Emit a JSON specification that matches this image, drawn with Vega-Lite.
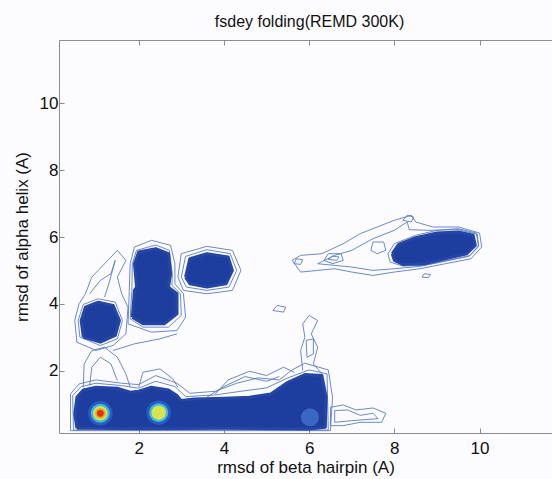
{
"$schema": "https://vega.github.io/schema/vega-lite/v6.json",
"width": 493, "height": 393,
"autosize": {"type": "none"},
"padding": {"left": 59, "top": 40, "right": 0, "bottom": 46},
"background": "#fcfcfe",
"config": {"view": {"stroke": null}, "font": "Liberation Sans"},
"title": {"text": "fsdey folding(REMD 300K)", "fontSize": 16, "fontWeight": "normal", "offset": 10, "dx": 4, "color": "#111"},
"datasets": {
"regions": [
{"id":"R1","o":0,"x":0.55,"y":0.27},{"id":"R1","o":1,"x":0.5,"y":0.7},{"id":"R1","o":2,"x":0.55,"y":1.2},{"id":"R1","o":3,"x":0.7,"y":1.42},{"id":"R1","o":4,"x":1.0,"y":1.5},{"id":"R1","o":5,"x":1.5,"y":1.47},{"id":"R1","o":6,"x":1.8,"y":1.35},{"id":"R1","o":7,"x":2.0,"y":1.38},{"id":"R1","o":8,"x":2.3,"y":1.5},{"id":"R1","o":9,"x":2.7,"y":1.42},{"id":"R1","o":10,"x":2.9,"y":1.25},{"id":"R1","o":11,"x":3.0,"y":1.1},{"id":"R1","o":12,"x":3.3,"y":1.15},{"id":"R1","o":13,"x":4.0,"y":1.17},{"id":"R1","o":14,"x":4.6,"y":1.2},{"id":"R1","o":15,"x":5.1,"y":1.3},{"id":"R1","o":16,"x":5.5,"y":1.65},{"id":"R1","o":17,"x":5.9,"y":1.88},{"id":"R1","o":18,"x":6.3,"y":1.85},{"id":"R1","o":19,"x":6.4,"y":1.2},{"id":"R1","o":20,"x":6.38,"y":0.3},{"id":"R1","o":21,"x":6.0,"y":0.25},{"id":"R1","o":22,"x":4.0,"y":0.27},{"id":"R1","o":23,"x":2.0,"y":0.26},{"id":"R1","o":24,"x":0.9,"y":0.27},{"id":"R1","o":25,"x":0.55,"y":0.27},
{"id":"R2","o":0,"x":0.7,"y":3.0},{"id":"R2","o":1,"x":0.65,"y":3.5},{"id":"R2","o":2,"x":0.75,"y":3.9},{"id":"R2","o":3,"x":1.05,"y":4.05},{"id":"R2","o":4,"x":1.4,"y":3.95},{"id":"R2","o":5,"x":1.55,"y":3.5},{"id":"R2","o":6,"x":1.45,"y":3.05},{"id":"R2","o":7,"x":1.1,"y":2.85},{"id":"R2","o":8,"x":0.7,"y":3.0},
{"id":"R3","o":0,"x":1.85,"y":3.6},{"id":"R3","o":1,"x":1.9,"y":4.4},{"id":"R3","o":2,"x":1.95,"y":4.5},{"id":"R3","o":3,"x":1.9,"y":5.2},{"id":"R3","o":4,"x":2.0,"y":5.55},{"id":"R3","o":5,"x":2.4,"y":5.65},{"id":"R3","o":6,"x":2.7,"y":5.5},{"id":"R3","o":7,"x":2.75,"y":4.9},{"id":"R3","o":8,"x":2.7,"y":4.5},{"id":"R3","o":9,"x":2.9,"y":4.3},{"id":"R3","o":10,"x":2.9,"y":3.7},{"id":"R3","o":11,"x":2.6,"y":3.4},{"id":"R3","o":12,"x":2.1,"y":3.4},{"id":"R3","o":13,"x":1.85,"y":3.6},
{"id":"R4","o":0,"x":3.1,"y":4.8},{"id":"R4","o":1,"x":3.2,"y":5.35},{"id":"R4","o":2,"x":3.6,"y":5.5},{"id":"R4","o":3,"x":4.1,"y":5.4},{"id":"R4","o":4,"x":4.2,"y":5.0},{"id":"R4","o":5,"x":4.05,"y":4.6},{"id":"R4","o":6,"x":3.6,"y":4.5},{"id":"R4","o":7,"x":3.2,"y":4.6},{"id":"R4","o":8,"x":3.1,"y":4.8},
{"id":"R5","o":0,"x":7.95,"y":5.5},{"id":"R5","o":1,"x":8.1,"y":5.78},{"id":"R5","o":2,"x":8.5,"y":5.98},{"id":"R5","o":3,"x":9.0,"y":6.12},{"id":"R5","o":4,"x":9.5,"y":6.15},{"id":"R5","o":5,"x":9.85,"y":6.05},{"id":"R5","o":6,"x":9.9,"y":5.75},{"id":"R5","o":7,"x":9.7,"y":5.5},{"id":"R5","o":8,"x":9.2,"y":5.35},{"id":"R5","o":9,"x":8.7,"y":5.2},{"id":"R5","o":10,"x":8.2,"y":5.18},{"id":"R5","o":11,"x":8.0,"y":5.3},{"id":"R5","o":12,"x":7.95,"y":5.5}
],
"contours": [
{"id":"C1","o":0,"x":0.4,"y":0.2},{"id":"C1","o":1,"x":0.4,"y":1.3},{"id":"C1","o":2,"x":0.6,"y":1.6},{"id":"C1","o":3,"x":1.0,"y":1.72},{"id":"C1","o":4,"x":1.6,"y":1.62},{"id":"C1","o":5,"x":2.0,"y":1.58},{"id":"C1","o":6,"x":2.4,"y":1.85},{"id":"C1","o":7,"x":2.9,"y":1.62},{"id":"C1","o":8,"x":3.2,"y":1.32},{"id":"C1","o":9,"x":3.8,"y":1.38},{"id":"C1","o":10,"x":4.3,"y":1.62},{"id":"C1","o":11,"x":4.8,"y":1.78},{"id":"C1","o":12,"x":5.3,"y":1.72},{"id":"C1","o":13,"x":5.6,"y":2.02},{"id":"C1","o":14,"x":5.9,"y":2.22},{"id":"C1","o":15,"x":6.45,"y":2.02},{"id":"C1","o":16,"x":6.55,"y":1.2},{"id":"C1","o":17,"x":6.5,"y":0.2},{"id":"C1","o":18,"x":0.4,"y":0.2},
{"id":"C2","o":0,"x":0.47,"y":0.22},{"id":"C2","o":1,"x":0.45,"y":1.25},{"id":"C2","o":2,"x":0.65,"y":1.52},{"id":"C2","o":3,"x":1.0,"y":1.62},{"id":"C2","o":4,"x":1.6,"y":1.55},{"id":"C2","o":5,"x":2.0,"y":1.47},{"id":"C2","o":6,"x":2.4,"y":1.68},{"id":"C2","o":7,"x":2.85,"y":1.52},{"id":"C2","o":8,"x":3.1,"y":1.22},{"id":"C2","o":9,"x":3.8,"y":1.27},{"id":"C2","o":10,"x":4.4,"y":1.38},{"id":"C2","o":11,"x":5.0,"y":1.48},{"id":"C2","o":12,"x":5.5,"y":1.78},{"id":"C2","o":13,"x":6.0,"y":2.02},{"id":"C2","o":14,"x":6.42,"y":1.9},{"id":"C2","o":15,"x":6.45,"y":0.22},{"id":"C2","o":16,"x":0.47,"y":0.22},
{"id":"C3","o":0,"x":0.7,"y":1.5},{"id":"C3","o":1,"x":0.72,"y":2.2},{"id":"C3","o":2,"x":0.9,"y":2.6},{"id":"C3","o":3,"x":1.2,"y":2.7},{"id":"C3","o":4,"x":1.5,"y":2.4},{"id":"C3","o":5,"x":1.7,"y":1.9},{"id":"C3","o":6,"x":1.8,"y":1.5},
{"id":"C4","o":0,"x":0.85,"y":1.55},{"id":"C4","o":1,"x":0.9,"y":2.1},{"id":"C4","o":2,"x":1.1,"y":2.4},{"id":"C4","o":3,"x":1.35,"y":2.2},{"id":"C4","o":4,"x":1.5,"y":1.7},
{"id":"C5","o":0,"x":2.0,"y":1.5},{"id":"C5","o":1,"x":2.1,"y":1.95},{"id":"C5","o":2,"x":2.5,"y":2.05},{"id":"C5","o":3,"x":2.8,"y":1.75},{"id":"C5","o":4,"x":2.92,"y":1.5},
{"id":"C6","o":0,"x":3.8,"y":1.3},{"id":"C6","o":1,"x":4.1,"y":1.72},{"id":"C6","o":2,"x":4.6,"y":1.98},{"id":"C6","o":3,"x":5.0,"y":1.85},{"id":"C6","o":4,"x":5.4,"y":2.1},{"id":"C6","o":5,"x":5.65,"y":1.95},
{"id":"C7","o":0,"x":3.6,"y":1.2},{"id":"C7","o":1,"x":4.0,"y":1.52},{"id":"C7","o":2,"x":4.5,"y":1.82},{"id":"C7","o":3,"x":5.0,"y":1.68},{"id":"C7","o":4,"x":5.3,"y":1.82},
{"id":"C8","o":0,"x":5.85,"y":2.0},{"id":"C8","o":1,"x":5.8,"y":2.6},{"id":"C8","o":2,"x":5.9,"y":3.0},{"id":"C8","o":3,"x":5.85,"y":3.4},{"id":"C8","o":4,"x":6.0,"y":3.65},{"id":"C8","o":5,"x":6.2,"y":3.5},{"id":"C8","o":6,"x":6.05,"y":3.1},{"id":"C8","o":7,"x":6.2,"y":2.7},{"id":"C8","o":8,"x":6.1,"y":2.2},{"id":"C8","o":9,"x":6.3,"y":1.9},
{"id":"C9","o":0,"x":5.95,"y":2.4},{"id":"C9","o":1,"x":5.93,"y":2.9},{"id":"C9","o":2,"x":6.1,"y":2.95},{"id":"C9","o":3,"x":6.1,"y":2.5},{"id":"C9","o":4,"x":5.95,"y":2.4},
{"id":"C10","o":0,"x":5.15,"y":3.8},{"id":"C10","o":1,"x":5.25,"y":3.95},{"id":"C10","o":2,"x":5.45,"y":3.9},{"id":"C10","o":3,"x":5.4,"y":3.75},{"id":"C10","o":4,"x":5.15,"y":3.8},
{"id":"C11","o":0,"x":6.5,"y":0.35},{"id":"C11","o":1,"x":6.5,"y":0.9},{"id":"C11","o":2,"x":6.8,"y":0.97},{"id":"C11","o":3,"x":7.1,"y":0.82},{"id":"C11","o":4,"x":7.5,"y":0.88},{"id":"C11","o":5,"x":7.8,"y":0.72},{"id":"C11","o":6,"x":7.7,"y":0.45},{"id":"C11","o":7,"x":7.2,"y":0.45},{"id":"C11","o":8,"x":6.8,"y":0.35},{"id":"C11","o":9,"x":6.5,"y":0.35},
{"id":"C12","o":0,"x":6.6,"y":0.45},{"id":"C12","o":1,"x":6.6,"y":0.8},{"id":"C12","o":2,"x":6.9,"y":0.82},{"id":"C12","o":3,"x":7.2,"y":0.66},{"id":"C12","o":4,"x":7.5,"y":0.72},{"id":"C12","o":5,"x":7.62,"y":0.56},{"id":"C12","o":6,"x":7.0,"y":0.5},{"id":"C12","o":7,"x":6.6,"y":0.45},
{"id":"C13","o":0,"x":0.55,"y":2.85},{"id":"C13","o":1,"x":0.5,"y":3.5},{"id":"C13","o":2,"x":0.6,"y":4.0},{"id":"C13","o":3,"x":0.75,"y":4.3},{"id":"C13","o":4,"x":0.9,"y":4.8},{"id":"C13","o":5,"x":1.2,"y":5.2},{"id":"C13","o":6,"x":1.5,"y":5.6},{"id":"C13","o":7,"x":1.7,"y":5.3},{"id":"C13","o":8,"x":1.5,"y":4.8},{"id":"C13","o":9,"x":1.6,"y":4.3},{"id":"C13","o":10,"x":1.75,"y":3.9},{"id":"C13","o":11,"x":1.7,"y":3.1},{"id":"C13","o":12,"x":1.4,"y":2.75},{"id":"C13","o":13,"x":1.0,"y":2.6},{"id":"C13","o":14,"x":0.55,"y":2.85},
{"id":"C14","o":0,"x":0.62,"y":3.0},{"id":"C14","o":1,"x":0.58,"y":3.5},{"id":"C14","o":2,"x":0.7,"y":3.98},{"id":"C14","o":3,"x":1.05,"y":4.15},{"id":"C14","o":4,"x":1.45,"y":4.05},{"id":"C14","o":5,"x":1.62,"y":3.5},{"id":"C14","o":6,"x":1.5,"y":2.95},{"id":"C14","o":7,"x":1.1,"y":2.75},{"id":"C14","o":8,"x":0.62,"y":3.0},
{"id":"C15","o":0,"x":0.85,"y":4.3},{"id":"C15","o":1,"x":1.1,"y":4.7},{"id":"C15","o":2,"x":1.35,"y":4.9},{"id":"C15","o":3,"x":1.45,"y":5.3},{"id":"C15","o":4,"x":1.3,"y":4.6},{"id":"C15","o":5,"x":1.2,"y":4.2},
{"id":"C16","o":0,"x":1.75,"y":3.4},{"id":"C16","o":1,"x":1.78,"y":4.4},{"id":"C16","o":2,"x":1.8,"y":5.2},{"id":"C16","o":3,"x":1.9,"y":5.7},{"id":"C16","o":4,"x":2.3,"y":5.9},{"id":"C16","o":5,"x":2.75,"y":5.75},{"id":"C16","o":6,"x":2.85,"y":5.2},{"id":"C16","o":7,"x":2.85,"y":4.6},{"id":"C16","o":8,"x":3.05,"y":4.3},{"id":"C16","o":9,"x":3.1,"y":3.6},{"id":"C16","o":10,"x":2.9,"y":3.2},{"id":"C16","o":11,"x":2.3,"y":3.15},{"id":"C16","o":12,"x":1.75,"y":3.4},
{"id":"C17","o":0,"x":1.8,"y":3.55},{"id":"C17","o":1,"x":1.84,"y":4.4},{"id":"C17","o":2,"x":1.85,"y":5.2},{"id":"C17","o":3,"x":1.95,"y":5.6},{"id":"C17","o":4,"x":2.4,"y":5.76},{"id":"C17","o":5,"x":2.72,"y":5.6},{"id":"C17","o":6,"x":2.79,"y":4.9},{"id":"C17","o":7,"x":2.78,"y":4.55},{"id":"C17","o":8,"x":2.98,"y":4.3},{"id":"C17","o":9,"x":3.0,"y":3.65},{"id":"C17","o":10,"x":2.7,"y":3.3},{"id":"C17","o":11,"x":2.1,"y":3.3},{"id":"C17","o":12,"x":1.8,"y":3.55},
{"id":"C18","o":0,"x":3.0,"y":4.8},{"id":"C18","o":1,"x":3.1,"y":5.42},{"id":"C18","o":2,"x":3.6,"y":5.62},{"id":"C18","o":3,"x":4.15,"y":5.5},{"id":"C18","o":4,"x":4.3,"y":5.0},{"id":"C18","o":5,"x":4.12,"y":4.5},{"id":"C18","o":6,"x":3.6,"y":4.4},{"id":"C18","o":7,"x":3.12,"y":4.5},{"id":"C18","o":8,"x":3.0,"y":4.8},
{"id":"C19","o":0,"x":1.4,"y":2.6},{"id":"C19","o":1,"x":1.9,"y":2.8},{"id":"C19","o":2,"x":2.5,"y":2.95},{"id":"C19","o":3,"x":2.9,"y":3.1},
{"id":"C20","o":0,"x":5.6,"y":5.3},{"id":"C20","o":1,"x":5.8,"y":5.45},{"id":"C20","o":2,"x":6.3,"y":5.5},{"id":"C20","o":3,"x":6.8,"y":5.8},{"id":"C20","o":4,"x":7.2,"y":6.1},{"id":"C20","o":5,"x":7.6,"y":6.3},{"id":"C20","o":6,"x":8.0,"y":6.5},{"id":"C20","o":7,"x":8.4,"y":6.65},{"id":"C20","o":8,"x":8.5,"y":6.45},{"id":"C20","o":9,"x":8.9,"y":6.3},{"id":"C20","o":10,"x":9.5,"y":6.3},{"id":"C20","o":11,"x":10.0,"y":6.12},{"id":"C20","o":12,"x":10.05,"y":5.7},{"id":"C20","o":13,"x":9.8,"y":5.35},{"id":"C20","o":14,"x":9.2,"y":5.2},{"id":"C20","o":15,"x":8.6,"y":5.05},{"id":"C20","o":16,"x":8.0,"y":4.95},{"id":"C20","o":17,"x":7.5,"y":4.85},{"id":"C20","o":18,"x":7.0,"y":4.95},{"id":"C20","o":19,"x":6.6,"y":5.05},{"id":"C20","o":20,"x":6.2,"y":5.0},{"id":"C20","o":21,"x":5.8,"y":4.95},{"id":"C20","o":22,"x":5.6,"y":5.3},
{"id":"C21","o":0,"x":6.2,"y":5.2},{"id":"C21","o":1,"x":6.6,"y":5.45},{"id":"C21","o":2,"x":7.0,"y":5.6},{"id":"C21","o":3,"x":7.5,"y":5.95},{"id":"C21","o":4,"x":8.0,"y":6.2},{"id":"C21","o":5,"x":8.3,"y":6.45},{"id":"C21","o":6,"x":8.35,"y":6.22},{"id":"C21","o":7,"x":8.8,"y":6.2},{"id":"C21","o":8,"x":9.5,"y":6.22},{"id":"C21","o":9,"x":9.95,"y":6.08},{"id":"C21","o":10,"x":9.97,"y":5.7},{"id":"C21","o":11,"x":9.75,"y":5.42},{"id":"C21","o":12,"x":9.2,"y":5.28},{"id":"C21","o":13,"x":8.6,"y":5.12},{"id":"C21","o":14,"x":8.0,"y":5.05},{"id":"C21","o":15,"x":7.5,"y":5.0},{"id":"C21","o":16,"x":7.0,"y":5.1},{"id":"C21","o":17,"x":6.6,"y":5.15},{"id":"C21","o":18,"x":6.2,"y":5.2},
{"id":"C22","o":0,"x":6.35,"y":5.3},{"id":"C22","o":1,"x":6.45,"y":5.5},{"id":"C22","o":2,"x":6.75,"y":5.5},{"id":"C22","o":3,"x":6.8,"y":5.3},{"id":"C22","o":4,"x":6.55,"y":5.2},{"id":"C22","o":5,"x":6.35,"y":5.3},
{"id":"C23","o":0,"x":6.45,"y":5.33},{"id":"C23","o":1,"x":6.55,"y":5.43},{"id":"C23","o":2,"x":6.7,"y":5.4},{"id":"C23","o":3,"x":6.65,"y":5.3},{"id":"C23","o":4,"x":6.45,"y":5.33},
{"id":"C24","o":0,"x":7.45,"y":5.6},{"id":"C24","o":1,"x":7.5,"y":5.85},{"id":"C24","o":2,"x":7.75,"y":5.85},{"id":"C24","o":3,"x":7.8,"y":5.6},{"id":"C24","o":4,"x":7.6,"y":5.5},{"id":"C24","o":5,"x":7.45,"y":5.6},
{"id":"C25","o":0,"x":5.65,"y":5.2},{"id":"C25","o":1,"x":5.7,"y":5.35},{"id":"C25","o":2,"x":5.85,"y":5.32},{"id":"C25","o":3,"x":5.8,"y":5.18},{"id":"C25","o":4,"x":5.65,"y":5.2},
{"id":"C26","o":0,"x":8.2,"y":6.5},{"id":"C26","o":1,"x":8.3,"y":6.65},{"id":"C26","o":2,"x":8.45,"y":6.6},{"id":"C26","o":3,"x":8.4,"y":6.45},{"id":"C26","o":4,"x":8.2,"y":6.5},
{"id":"C27","o":0,"x":8.65,"y":4.8},{"id":"C27","o":1,"x":8.7,"y":4.9},{"id":"C27","o":2,"x":8.85,"y":4.88},{"id":"C27","o":3,"x":8.8,"y":4.78},{"id":"C27","o":4,"x":8.65,"y":4.8},
{"id":"C28","o":0,"x":7.85,"y":5.5},{"id":"C28","o":1,"x":8.0,"y":5.8},{"id":"C28","o":2,"x":8.5,"y":6.05},{"id":"C28","o":3,"x":9.0,"y":6.2},{"id":"C28","o":4,"x":9.5,"y":6.25},{"id":"C28","o":5,"x":9.92,"y":6.12},{"id":"C28","o":6,"x":9.98,"y":5.75},{"id":"C28","o":7,"x":9.78,"y":5.45},{"id":"C28","o":8,"x":9.2,"y":5.28},{"id":"C28","o":9,"x":8.7,"y":5.15},{"id":"C28","o":10,"x":8.2,"y":5.13},{"id":"C28","o":11,"x":7.9,"y":5.25},{"id":"C28","o":12,"x":7.85,"y":5.5},
{"id":"C29","o":0,"x":2.92,"y":4.8},{"id":"C29","o":1,"x":3.0,"y":5.5},{"id":"C29","o":2,"x":3.6,"y":5.72},{"id":"C29","o":3,"x":4.2,"y":5.6},{"id":"C29","o":4,"x":4.4,"y":5.0},{"id":"C29","o":5,"x":4.2,"y":4.4},{"id":"C29","o":6,"x":3.6,"y":4.3},{"id":"C29","o":7,"x":3.05,"y":4.4},{"id":"C29","o":8,"x":2.92,"y":4.8}
],
"hot": [
{"x":6.02,"y":0.6,"lv":0},
{"x":1.1,"y":0.72,"lv":1},{"x":1.1,"y":0.72,"lv":2},{"x":1.1,"y":0.72,"lv":3},{"x":1.1,"y":0.72,"lv":4},{"x":1.1,"y":0.72,"lv":5},
{"x":2.47,"y":0.74,"lv":1},{"x":2.47,"y":0.74,"lv":2},{"x":2.47,"y":0.74,"lv":3}
]
},
"layer": [
{"data": {"name": "contours"},
 "mark": {"type": "line", "stroke": "#5b7cc6", "strokeWidth": 0.9, "clip": true},
 "encoding": {
  "x": {"field": "x", "type": "quantitative", "scale": {"domain": [0.13, 11.7], "nice": false, "zero": false},
        "axis": {"orient": "top", "values": [2,4,6,8,10], "labels": false, "title": null, "tickSize": -5, "grid": false, "domainColor": "#8c8c8c", "tickColor": "#8c8c8c"}},
  "y": {"field": "y", "type": "quantitative", "scale": {"domain": [0.13, 11.9], "nice": false, "zero": false}, "axis": null},
  "detail": {"field": "id"},
  "order": {"field": "o"}
 }},
{"data": {"name": "regions"},
 "mark": {"type": "line", "fill": "#1d3e9e", "stroke": "#2646a6", "strokeWidth": 3, "strokeJoin": "round", "clip": true},
 "encoding": {
  "x": {"field": "x", "type": "quantitative",
        "axis": {"orient": "bottom", "values": [2,4,6,8,10], "tickSize": -5, "grid": false, "domainColor": "#8c8c8c", "tickColor": "#8c8c8c", "labelFontSize": 17, "labelColor": "#111", "labelPadding": 12, "title": "rmsd of beta hairpin (A)", "titleFontSize": 17, "titleFontWeight": "normal", "titleColor": "#111", "titlePadding": 3}},
  "y": {"field": "y", "type": "quantitative",
        "axis": {"orient": "left", "values": [2,4,6,8,10], "tickSize": -5, "grid": false, "domainColor": "#8c8c8c", "tickColor": "#8c8c8c", "labelFontSize": 17, "labelColor": "#111", "labelPadding": 6, "title": "rmsd of alpha helix (A)", "titleFontSize": 17, "titleFontWeight": "normal", "titleColor": "#111", "titlePadding": 8}},
  "detail": {"field": "id"},
  "order": {"field": "o"}
 }},
{"data": {"name": "hot"},
 "mark": {"type": "point", "filled": true, "opacity": 0.9, "strokeWidth": 0, "shape": "circle"},
 "encoding": {
  "x": {"field": "x", "type": "quantitative", "axis": null},
  "y": {"field": "y", "type": "quantitative", "axis": null},
  "color": {"field": "lv", "type": "ordinal", "scale": {"domain": [0,1,2,3,4,5], "range": ["#3f6cc8","#2a5fc6","#3ec6e8","#e8e83a","#f29a28","#d8261a"]}, "legend": null},
  "size": {"field": "lv", "type": "ordinal", "scale": {"type": "ordinal", "domain": [0,1,2,3,4,5], "range": [320,600,360,210,110,45]}, "legend": null}
 }}
],
"resolve": {"axis": {"x": "independent", "y": "independent"}}
}
